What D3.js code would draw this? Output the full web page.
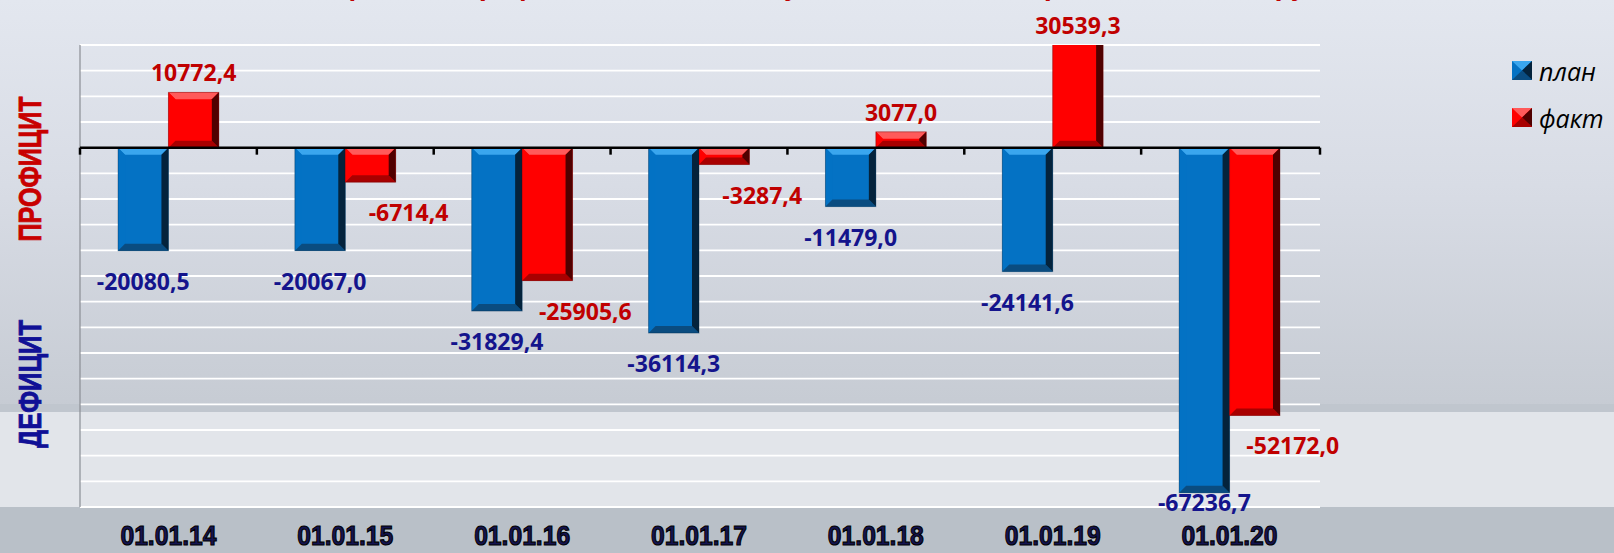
<!DOCTYPE html>
<html>
<head>
<meta charset="utf-8">
<script src="https://cdn.jsdelivr.net/npm/d3@7"></script>
<style>
  html, body { margin: 0; padding: 0; overflow: hidden; }
  svg { display: block; }
</style>
</head>
<body>
<script>
// dates and values (тыс. рублей)
var categories = ['01.01.14', '01.01.15', '01.01.16', '01.01.17', '01.01.18', '01.01.19', '01.01.20'];
var seriesNames = ['план', 'факт'];
var plan = [-20080.5, -20067.0, -31829.4, -36114.3, -11479.0, -24141.6, -67236.7];
var fact = [10772.4, -6714.4, -25905.6, -3287.4, 3077.0, 30539.3, -52172.0];
var yTicks = d3.range(-70000, 20001, 5000);
var title = 'Динамика дефицита/профицита бюджета муниципального образования (тыс. рублей)';

var W = 1614, H = 553;
var margin = {left: 80, right: 296, top: 45, bottom: 46};
var plotBottom = H - margin.bottom;

var colors = {
    'план': {main: '#0472c4', light: '#3aa6ee', dark: '#0a4c80', edge: '#04233c', label: '#14148c'},
    'факт': {main: '#ff0000', light: '#ff5a5a', dark: '#a80000', edge: '#500000', label: '#c00000'}
};

var svg = d3.select('body').append('svg')
    .attr('width', W)
    .attr('height', H);

var defs = svg.append('defs');
var bg = defs.append('linearGradient').attr('id', 'bgTop')
    .attr('x1', 0).attr('y1', 0).attr('x2', 0).attr('y2', 1);
bg.append('stop').attr('offset', '0%').attr('stop-color', '#e3e7ef');
bg.append('stop').attr('offset', '45%').attr('stop-color', '#d8dce5');
bg.append('stop').attr('offset', '100%').attr('stop-color', '#c6cbd3');

defs.append('clipPath').attr('id', 'plotClip')
    .append('rect')
    .attr('x', margin.left).attr('y', margin.top)
    .attr('width', W - margin.left - margin.right + 2)
    .attr('height', plotBottom - margin.top);

// slide background
svg.append('rect').attr('x', 0).attr('y', 0).attr('width', W).attr('height', 412)
    .attr('fill', 'url(#bgTop)');
svg.append('rect').attr('x', 0).attr('y', 404).attr('width', W).attr('height', 9)
    .attr('fill', '#c0c6ce');
svg.append('rect').attr('x', 0).attr('y', 412).attr('width', W).attr('height', plotBottom - 412)
    .attr('fill', '#e2e5ea');
svg.append('rect').attr('x', 0).attr('y', plotBottom).attr('width', W).attr('height', H - plotBottom)
    .attr('fill', '#b9c0c8');

var x0 = d3.scaleBand()
    .domain(categories)
    .range([margin.left, W - margin.right])
    .paddingInner(0.43)
    .paddingOuter(0.215);

var x1 = d3.scaleBand()
    .domain(seriesNames)
    .range([0, x0.bandwidth()]);

var y = d3.scaleLinear()
    .domain([-70000, 20000])
    .range([plotBottom, margin.top]);

// grid lines
svg.append('g').attr('class', 'grid')
    .selectAll('line').data(yTicks.filter(function (t) { return t !== 0; }))
    .enter().append('line')
    .attr('x1', margin.left).attr('x2', W - margin.right + 2)
    .attr('y1', function (d) { return y(d); })
    .attr('y2', function (d) { return y(d); })
    .attr('stroke', '#ffffff')
    .attr('stroke-width', 1.8);

// vertical axis line
svg.append('line')
    .attr('x1', margin.left).attr('x2', margin.left)
    .attr('y1', margin.top).attr('y2', plotBottom)
    .attr('stroke', '#8a8e94').attr('stroke-width', 1.2);

// data rows
var rows = categories.map(function (c, i) {
    return {cat: c, values: [{name: 'план', v: plan[i]}, {name: 'факт', v: fact[i]}]};
});

var bevel = 7;
var groups = svg.append('g').attr('clip-path', 'url(#plotClip)')
    .selectAll('.group').data(rows)
    .enter().append('g')
    .attr('class', 'group')
    .attr('transform', function (d) { return 'translate(' + x0(d.cat) + ',0)'; });

groups.selectAll('.bar').data(function (d) { return d.values; })
    .enter().append('g')
    .attr('class', 'bar')
    .each(function (d) {
        var g = d3.select(this);
        var c = colors[d.name];
        var bx = x1(d.name), bw = x1.bandwidth();
        var top = Math.min(y(d.v), y(0)), bot = Math.max(y(d.v), y(0));
        var bh = bot - top;
        var b = Math.min(bevel, bh / 2);
        g.append('rect').attr('x', bx).attr('y', top).attr('width', bw).attr('height', bh)
            .attr('fill', c.main);
        // top facet
        g.append('polygon').attr('points', [[bx, top], [bx + bw, top], [bx + bw - b, top + b], [bx + b, top + b]].join(' '))
            .attr('fill', c.light);
        // left facet
        g.append('polygon').attr('points', [[bx, top], [bx + b, top + b], [bx + b, bot - b], [bx, bot]].join(' '))
            .attr('fill', c.main).attr('opacity', 0.85);
        // bottom facet
        g.append('polygon').attr('points', [[bx, bot], [bx + b, bot - b], [bx + bw - b, bot - b], [bx + bw, bot]].join(' '))
            .attr('fill', c.dark);
        // right facet
        g.append('polygon').attr('points', [[bx + bw, top], [bx + bw, bot], [bx + bw - b, bot - b], [bx + bw - b, top + b]].join(' '))
            .attr('fill', c.edge);
        g.append('rect').attr('x', bx).attr('y', top).attr('width', bw).attr('height', bh)
            .attr('fill', 'none').attr('stroke', c.edge).attr('stroke-opacity', 0.35).attr('stroke-width', 1);
    });

// zero axis with ticks
var zero = svg.append('g');
zero.append('line')
    .attr('x1', margin.left).attr('x2', W - margin.right + 2)
    .attr('y1', y(0)).attr('y2', y(0))
    .attr('stroke', '#000').attr('stroke-width', 2.5);
var tickXs = categories.map(function (c) { return x0(c) - x0.step() * x0.paddingInner() / 2; });
tickXs.push(W - margin.right + 2);
zero.selectAll('.tick').data(tickXs)
    .enter().append('line')
    .attr('x1', function (d) { return d; }).attr('x2', function (d) { return d; })
    .attr('y1', y(0)).attr('y2', y(0) + 7)
    .attr('stroke', '#000').attr('stroke-width', 2.5);

// value labels
function fmt(v) { return v.toFixed(1).replace('.', ','); }

groups.each(function (row) {
    var gx = x0(row.cat);
    row.values.forEach(function (d) {
        var cx = gx + x1(d.name) + x1.bandwidth() / 2;
        var ly;
        if (d.v >= 0) {
            ly = Math.max(y(d.v), margin.top) - 20;
        } else {
            ly = Math.min(y(d.v) + 30, plotBottom - 5);
            if (d.name === 'факт') cx += 38;
        }
        svg.append('text')
            .attr('x', cx).attr('y', ly)
            .attr('text-anchor', 'middle')
            .attr('dominant-baseline', 'central')
            .style('font-family', '"Open Sans", sans-serif')
            .style('font-weight', 700)
            .style('font-size', '23px')
            .attr('fill', colors[d.name].label)
            .text(fmt(d.v));
    });
});

// category labels
svg.append('g').selectAll('text').data(categories)
    .enter().append('text')
    .attr('x', function (d) { return x0(d) + x0.bandwidth() / 2; })
    .attr('y', 536)
    .attr('text-anchor', 'middle')
    .attr('dominant-baseline', 'central')
    .attr('textLength', 96)
    .attr('lengthAdjust', 'spacingAndGlyphs')
    .style('font-family', '"Liberation Sans Narrow", "Liberation Sans", sans-serif')
    .style('font-weight', 'bold')
    .style('font-size', '27px')
    .attr('fill', '#141450')
    .attr('stroke', '#000')
    .attr('stroke-width', 1.1)
    .text(function (d) { return d; });

// side labels
svg.append('text')
    .attr('transform', 'translate(30,169) rotate(-90)')
    .attr('text-anchor', 'middle').attr('dominant-baseline', 'central')
    .attr('textLength', 145).attr('lengthAdjust', 'spacingAndGlyphs')
    .style('font-family', '"Liberation Sans", sans-serif')
    .style('font-weight', 'bold').style('font-size', '31px')
    .attr('fill', '#c80000').attr('stroke', '#c80000').attr('stroke-width', 0.8)
    .text('ПРОФИЦИТ');
svg.append('text')
    .attr('transform', 'translate(30,384) rotate(-90)')
    .attr('text-anchor', 'middle').attr('dominant-baseline', 'central')
    .attr('textLength', 128).attr('lengthAdjust', 'spacingAndGlyphs')
    .style('font-family', '"Liberation Sans", sans-serif')
    .style('font-weight', 'bold').style('font-size', '31px')
    .attr('fill', '#101096').attr('stroke', '#101096').attr('stroke-width', 0.8)
    .text('ДЕФИЦИТ');

// title (mostly above the visible area, as in the source slide)
svg.append('text')
    .attr('x', 154).attr('y', -6)
    .attr('textLength', 1230).attr('lengthAdjust', 'spacingAndGlyphs')
    .style('font-family', '"Open Sans", sans-serif')
    .style('font-weight', 'bold').style('font-size', '28px')
    .attr('fill', '#c00000')
    .text(title);

// legend
var legend = svg.append('g').selectAll('.leg').data(seriesNames)
    .enter().append('g')
    .attr('class', 'leg')
    .attr('transform', function (d, i) { return 'translate(1512,' + (61 + i * 47) + ')'; });
legend.append('rect').attr('width', 20).attr('height', 19)
    .attr('fill', function (d) { return colors[d].main; });
legend.append('polygon').attr('points', '0,0 20,0 10,9.5')
    .attr('fill', function (d) { return colors[d].light; });
legend.append('polygon').attr('points', '20,0 20,19 10,9.5')
    .attr('fill', function (d) { return colors[d].edge; });
legend.append('polygon').attr('points', '0,19 20,19 10,9.5')
    .attr('fill', function (d) { return colors[d].dark; });
legend.append('text')
    .attr('x', 27).attr('y', 10)
    .attr('dominant-baseline', 'central')
    .style('font-family', '"Open Sans", sans-serif')
    .style('font-style', 'italic')
    .style('font-size', '25px')
    .attr('fill', '#000')
    .text(function (d) { return d; });
</script>
</body>
</html>
